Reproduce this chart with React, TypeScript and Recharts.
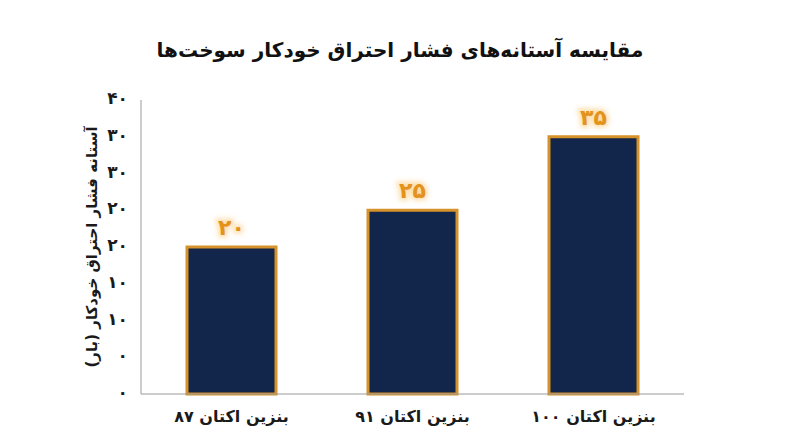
import { BarChart, Bar, XAxis, YAxis, LabelList } from 'recharts';

const categories = ['بنزین اکتان ۸۷', 'بنزین اکتان ۹۱', 'بنزین اکتان ۱۰۰'];
const pressureValues = [20, 25, 35];
const valueLabels = ['۲۰', '۲۵', '۳۵'];
const yTicks = [0, 5, 10, 15, 20, 25, 30, 35, 40];
const yTickLabels = ['۰', '۰', '۱۰', '۱۰', '۲۰', '۲۰', '۳۰', '۳۰', '۴۰'];

const data = categories.map((name, i) => ({ name, value: pressureValues[i], label: valueLabels[i] }));

const FONT = '"DejaVu Sans", "Noto Sans", sans-serif';

const GlowLabel = (props: any) => {
  const { x, y, width, value } = props;
  const cx = x + width / 2;
  const ty = y - 12;
  return (
    <g>
      <text x={cx} y={ty} textAnchor="middle" fontSize={22} fontWeight="bold" fill="#F7C56F" stroke="#FBD08A" strokeWidth={5} filter="url(#glow)" fontFamily={FONT} opacity={0.7}>
        {value}
      </text>
      <text x={cx} y={ty} textAnchor="middle" fontSize={22} fontWeight="bold" fill="#E3921C" fontFamily={FONT}>
        {value}
      </text>
    </g>
  );
};

const YLabel = (props: any) => {
  const { viewBox } = props;
  const x = viewBox.x + 11;
  const y = viewBox.y + viewBox.height / 2;
  return (
    <text x={x} y={y} transform={`rotate(-90 ${x} ${y})`} textAnchor="middle" dominantBaseline="middle" fontSize={15} fontWeight="bold" fill="#1a1a1a" fontFamily={FONT}>
      آستانه فشار احتراق خودکار (بار)
    </text>
  );
};

export default function App() {
  return (
    <div style={{ position: 'relative', width: 800, height: 447, background: '#fff', fontFamily: FONT }}>
      <style>{`body{margin:0}`}</style>
      <div style={{ position: 'absolute', top: 38, left: 0, width: 800, textAlign: 'center', fontSize: 20, fontWeight: 'bold', color: '#111', direction: 'rtl' }}>
        مقایسه آستانه‌های فشار احتراق خودکار سوخت‌ها
      </div>
      <BarChart width={800} height={447} data={data} margin={{ top: 100, right: 116, bottom: 23, left: 81 }}>
        <defs>
          <filter id="glow" x="-50%" y="-50%" width="200%" height="200%">
            <feGaussianBlur stdDeviation="2.5" />
          </filter>
        </defs>
        <XAxis
          dataKey="name"
          height={30}
          axisLine={{ stroke: '#9a9a9a' }}
          tickLine={false}
          tickMargin={11}
          tick={{ fontSize: 16, fontWeight: 'bold', fill: '#1a1a1a', fontFamily: FONT }}
        />
        <YAxis
          width={60}
          domain={[0, 40]}
          ticks={yTicks}
          interval={0}
          axisLine={{ stroke: '#9a9a9a' }}
          tickLine={false}
          tickSize={0}
          tickMargin={13}
          tick={{ fontSize: 17, fontWeight: 'bold', fill: '#1a1a1a', fontFamily: FONT, dy: -2 }}
          tickFormatter={(v: number) => yTickLabels[yTicks.indexOf(v)]}
          label={<YLabel />}
        />
        <Bar dataKey="value" barSize={89} fill="#12254B" stroke="#D6922B" strokeWidth={3} isAnimationActive={false}>
          <LabelList dataKey="label" content={<GlowLabel />} />
        </Bar>
      </BarChart>
    </div>
  );
}
